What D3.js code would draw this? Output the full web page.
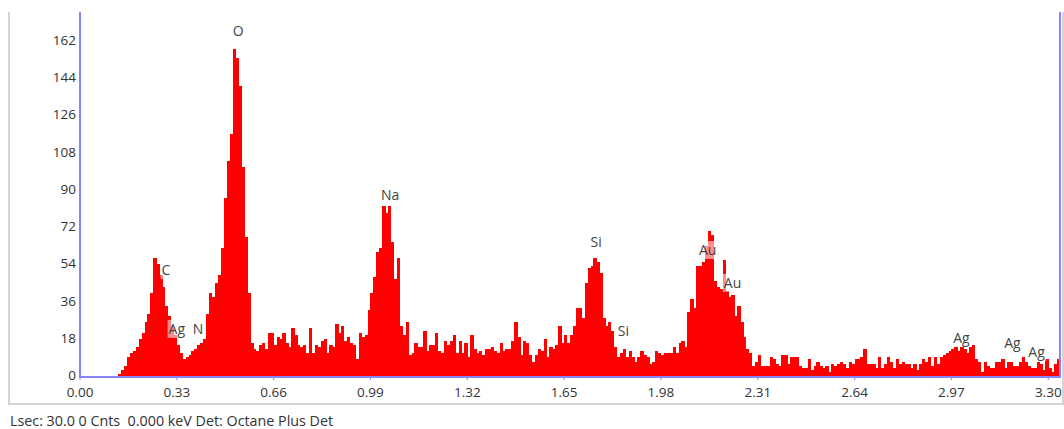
<!DOCTYPE html>
<html>
<head>
<meta charset="utf-8">
<script src="https://cdn.jsdelivr.net/npm/d3@7"></script>
<style>
  body { margin: 0; background: #fff; }
  svg { display: block; font-family: "Open Sans", "Noto Sans", sans-serif; }
</style>
</head>
<body>
<svg id="chart" width="1064" height="429"></svg>
<script>
// spectrum: counts per 0.01 keV channel, first channel at 0.13 keV
const binStart = 0.13;
const binWidth = 0.01;
const counts = [
  1, 3, 5, 9, 11, 12, 14, 18, 21, 26, 30, 40, 57, 54, 49, 43, 34, 29, 24, 20,
  15, 11, 8, 9, 10, 12, 13, 15, 16, 18, 30, 40, 38, 45, 49, 62, 86, 104, 117, 158,
  154, 140, 101, 67, 40, 16, 13, 12, 15, 16, 13, 21, 21, 15, 19, 18, 21, 16, 14, 23,
  20, 15, 14, 15, 11, 23, 11, 15, 14, 17, 18, 11, 15, 14, 25, 21, 24, 17, 19, 16,
  15, 8, 21, 19, 20, 32, 40, 48, 60, 62, 82, 79, 82, 65, 47, 57, 24, 20, 26, 10,
  11, 16, 14, 14, 22, 12, 15, 15, 21, 12, 11, 17, 15, 17, 20, 11, 17, 11, 16, 9,
  20, 13, 11, 12, 10, 13, 13, 14, 12, 11, 16, 12, 13, 13, 17, 26, 19, 10, 17, 16,
  10, 7, 10, 13, 12, 18, 9, 14, 13, 15, 24, 16, 20, 16, 20, 24, 33, 33, 28, 45,
  52, 53, 57, 55, 50, 28, 24, 26, 22, 14, 9, 11, 13, 9, 12, 9, 7, 9, 12, 10,
  9, 6, 7, 12, 11, 10, 11, 11, 11, 14, 11, 16, 17, 14, 31, 37, 33, 53, 53, 55,
  63, 70, 68, 46, 43, 42, 56, 41, 38, 39, 29, 34, 26, 19, 13, 11, 5, 7, 10, 5,
  5, 5, 9, 8, 6, 5, 10, 10, 6, 9, 9, 9, 5, 4, 4, 8, 3, 5, 7, 5,
  4, 5, 2, 6, 5, 6, 7, 6, 4, 7, 6, 8, 8, 9, 13, 6, 6, 6, 4, 9,
  4, 6, 9, 7, 4, 8, 6, 7, 6, 6, 4, 6, 3, 6, 8, 7, 9, 5, 9, 6,
  9, 10, 11, 12, 13, 14, 12, 14, 13, 11, 14, 15, 8, 7, 2, 7, 5, 4, 4, 7,
  7, 8, 4, 7, 7, 5, 5, 7, 9, 7, 5, 4, 4, 7, 6, 3, 8, 4, 2, 6,
  8
];

const yTicks = [0, 18, 36, 54, 72, 90, 108, 126, 144, 162];
const xTicks = [0, 0.33, 0.66, 0.99, 1.32, 1.65, 1.98, 2.31, 2.64, 2.97, 3.30];

// element markers: name, energy (keV), count level
const peakNames  = ["O", "C", "Ag", "N", "Na", "Si", "Si", "Au", "Au", "Ag", "Ag", "Ag"];
const peakKeV    = [0.539, 0.293, 0.330, 0.402, 1.057, 1.759, 1.852, 2.139, 2.224, 3.004, 3.178, 3.260];
const peakLevels = [164.4, 48.8, 20.3, 20.3, 85.1, 62.4, 19.3, 58.5, 42.6, 16.0, 13.5, 9.2];

const footer = "Lsec: 30.0 0 Cnts  0.000 keV Det: Octane Plus Det";

const svg = d3.select("#chart");

const plotLeft = 80, plotRight = 1060, plotTop = 12, plotBottom = 376;

const x = d3.scaleLinear().domain([0, 3.34]).range([plotLeft, plotRight]);
const y = d3.scaleLinear().domain([0, 176]).range([plotBottom, plotTop]);

const bins = counts.map((c, i) => ({ e0: binStart + i * binWidth, c: c }));

// outer grey frame (no top edge)
svg.append("path")
  .attr("d", `M9,12 V404 H1063 V12`)
  .attr("fill", "none")
  .attr("stroke", "#d4d4d4")
  .attr("stroke-width", 2);

// bars
svg.append("g")
  .selectAll("rect")
  .data(bins)
  .enter()
  .append("rect")
  .attr("x", d => x(d.e0))
  .attr("width", d => x(d.e0 + binWidth) - x(d.e0) + 0.4)
  .attr("y", d => y(d.c))
  .attr("height", d => y(0) - y(d.c))
  .attr("fill", "#ff0000")
  .attr("shape-rendering", "crispEdges");

// blue plot border
svg.append("path")
  .attr("d", `M${plotLeft},${plotTop} V${plotBottom + 1} H${plotRight} V${plotTop}`)
  .attr("fill", "none")
  .attr("stroke", "#8585ff")
  .attr("stroke-width", 2);

// y tick labels
svg.append("g")
  .selectAll("text")
  .data(yTicks)
  .enter()
  .append("text")
  .attr("x", 76)
  .attr("y", d => y(d) + 4)
  .attr("text-anchor", "end")
  .attr("font-size", 13.5)
  .attr("fill", "#333")
  .text(d => d);

// x ticks + labels
const xg = svg.append("g");
xg.selectAll("line")
  .data(xTicks)
  .enter()
  .append("line")
  .attr("x1", d => x(d))
  .attr("x2", d => x(d))
  .attr("y1", plotBottom + 1)
  .attr("y2", plotBottom + 4)
  .attr("stroke", "#8585ff");

xg.selectAll("text")
  .data(xTicks)
  .enter()
  .append("text")
  .attr("x", d => x(d))
  .attr("y", 397)
  .attr("text-anchor", "middle")
  .attr("font-size", 13.5)
  .attr("fill", "#333")
  .text(d => d3.format(".2f")(d));

// peak labels with translucent backing
const labels = svg.append("g")
  .selectAll("g")
  .data(peakNames.map((n, i) => ({ name: n, e: peakKeV[i], v: peakLevels[i] })))
  .enter()
  .append("g")
  .attr("transform", d => `translate(${x(d.e)},${y(d.v)})`);

labels.append("text")
  .attr("text-anchor", "middle")
  .attr("font-size", 14)
  .attr("fill", "#444")
  .text(d => d.name)
  .each(function () {
    const b = this.getBBox();
    d3.select(this.parentNode).insert("rect", "text")
      .attr("x", b.x - 1)
      .attr("y", b.y + 1)
      .attr("width", b.width + 2)
      .attr("height", b.height - 1)
      .attr("fill", "#fff")
      .attr("fill-opacity", 0.55);
  });

svg.append("text")
  .attr("x", 10)
  .attr("y", 426)
  .attr("font-size", 14.3)
  .attr("fill", "#333")
  .style("white-space", "pre")
  .text(footer);
</script>
</body>
</html>
